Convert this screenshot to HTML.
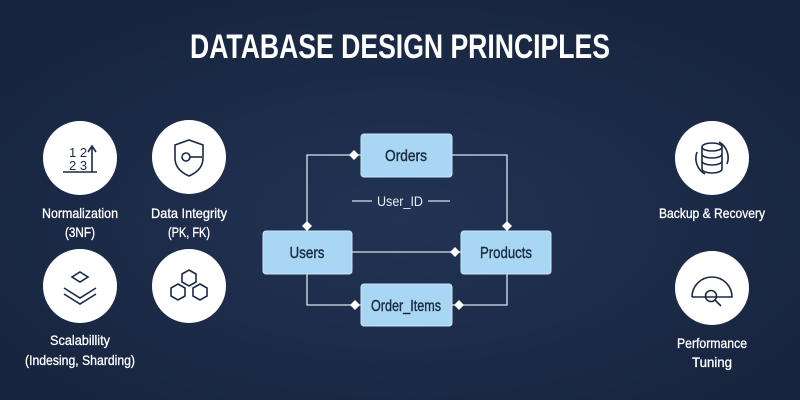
<!DOCTYPE html>
<html><head><style>
html,body{margin:0;padding:0;background:#1a2945;}
svg{display:block}
text{font-family:"Liberation Sans Narrow","Liberation Sans",sans-serif;}
</style></head><body>
<svg width="800" height="400" viewBox="0 0 800 400" xmlns="http://www.w3.org/2000/svg">
<defs>
<radialGradient id="bg" cx="50%" cy="55%" r="60%">
<stop offset="0" stop-color="#223354"/><stop offset="1" stop-color="#17253f"/>
</radialGradient>
</defs>
<rect width="800" height="400" fill="url(#bg)"/>
<text x="400" y="58" text-anchor="middle" font-size="34" font-weight="bold" fill="#fff" textLength="420" lengthAdjust="spacingAndGlyphs">DATABASE DESIGN PRINCIPLES</text>

<g fill="#fff">
<circle cx="80" cy="158" r="37"/><circle cx="189" cy="157" r="37"/>
<circle cx="80" cy="286" r="37"/><circle cx="189" cy="286" r="37"/>
<circle cx="712" cy="158" r="37"/><circle cx="712" cy="288" r="37"/>
</g>
<g stroke="#1a2945" stroke-width="1.6" fill="none">
<path d="M63 172 H97 M92 172 V148 M88 152 L92 146 L96 152"/>
<path d="M175 145 L189 140 L203 145 V158 Q203 170 189 176 Q175 170 175 158 Z"/>
<circle cx="186" cy="157" r="4"/><path d="M190 157 H202"/>
<path d="M80 272 L88 277 L80 282 L72 277 Z M64 288 L80 298 L96 288 M64 294 L80 304 L96 294"/>
<path d="M189 270 l7 4 v8 l-7 4 l-7 -4 v-8 z M178 284 l7 4 v8 l-7 4 l-7 -4 v-8 z M200 284 l7 4 v8 l-7 4 l-7 -4 v-8 z"/>
<ellipse cx="712" cy="147" rx="10" ry="4"/><path d="M702 147 V169 M722 147 V169 M702 154 a10 4 0 0 0 20 0 M702 161 a10 4 0 0 0 20 0 M702 169 a10 4 0 0 0 20 0"/>
<path d="M697 152 a18 18 0 0 0 8 22 M727 164 a18 18 0 0 0 -8 -22"/>
<path d="M692 297 a20 20 0 0 1 40 0 H692"/>
<circle cx="711" cy="296" r="5.5"/><path d="M715 300 L721 306"/>
</g>
<text x="69" y="157" font-size="13" fill="#1a2945">1 2</text>
<text x="69" y="170" font-size="13" fill="#1a2945">2 3</text>
<g fill="#fff" font-size="14" text-anchor="middle" stroke="#fff" stroke-width="0.3" lengthAdjust="spacingAndGlyphs">
<text x="80" y="218" textLength="76" lengthAdjust="spacingAndGlyphs">Normalization</text><text x="80" y="237" textLength="30" lengthAdjust="spacingAndGlyphs">(3NF)</text>
<text x="189" y="218" textLength="76" lengthAdjust="spacingAndGlyphs">Data Integrity</text><text x="189" y="237" textLength="42" lengthAdjust="spacingAndGlyphs">(PK, FK)</text>
<text x="80" y="345" textLength="60" lengthAdjust="spacingAndGlyphs">Scalabillity</text><text x="80" y="365" textLength="110" lengthAdjust="spacingAndGlyphs">(Indesing, Sharding)</text>
<text x="712" y="218" textLength="106" lengthAdjust="spacingAndGlyphs">Backup &amp; Recovery</text>
<text x="712" y="348" textLength="70" lengthAdjust="spacingAndGlyphs">Performance</text><text x="712" y="367" textLength="40" lengthAdjust="spacingAndGlyphs">Tuning</text>
</g>
<g stroke="#d8e3ee" stroke-width="1.3" fill="none">
<path d="M361 155 H307 V231"/>
<path d="M452 155 H507 V231"/>
<path d="M352 252 H461"/>
<path d="M307 274 V305 H361"/>
<path d="M507 274 V305 H452"/>
<path d="M352 201 H372 M428 201 H450"/>
</g>
<g fill="#fff">
<path d="M349 155 l5 -5 l5 5 l-5 5z"/>
<path d="M302 226 l5 -5 l5 5 l-5 5z"/>
<path d="M502 226 l5 -5 l5 5 l-5 5z"/>
<path d="M450 252 l5 -5 l5 5 l-5 5z"/>
<path d="M350 305 l5 -5 l5 5 l-5 5z"/>
<path d="M454 305 l5 -5 l5 5 l-5 5z"/>
</g>
<text x="400" y="206" text-anchor="middle" font-size="14" fill="#e6edf5" textLength="46" lengthAdjust="spacingAndGlyphs">User_ID</text>
<g fill="#a9d6f3" stroke="#c9e6f8" stroke-width="1">
<rect x="361" y="134" width="91" height="43" rx="3"/>
<rect x="263" y="231" width="89" height="43" rx="3"/>
<rect x="461" y="231" width="90" height="43" rx="3"/>
<rect x="361" y="284" width="91" height="42" rx="3"/>
</g>
<g fill="#1b2b45" font-size="16" text-anchor="middle" stroke="#1b2b45" stroke-width="0.4">
<text x="406" y="161" textLength="42" lengthAdjust="spacingAndGlyphs">Orders</text>
<text x="307" y="258" textLength="35" lengthAdjust="spacingAndGlyphs">Users</text>
<text x="506" y="258" textLength="52" lengthAdjust="spacingAndGlyphs">Products</text>
<text x="406" y="311" textLength="70" lengthAdjust="spacingAndGlyphs">Order_Items</text>
</g>
</svg>
</body></html>
